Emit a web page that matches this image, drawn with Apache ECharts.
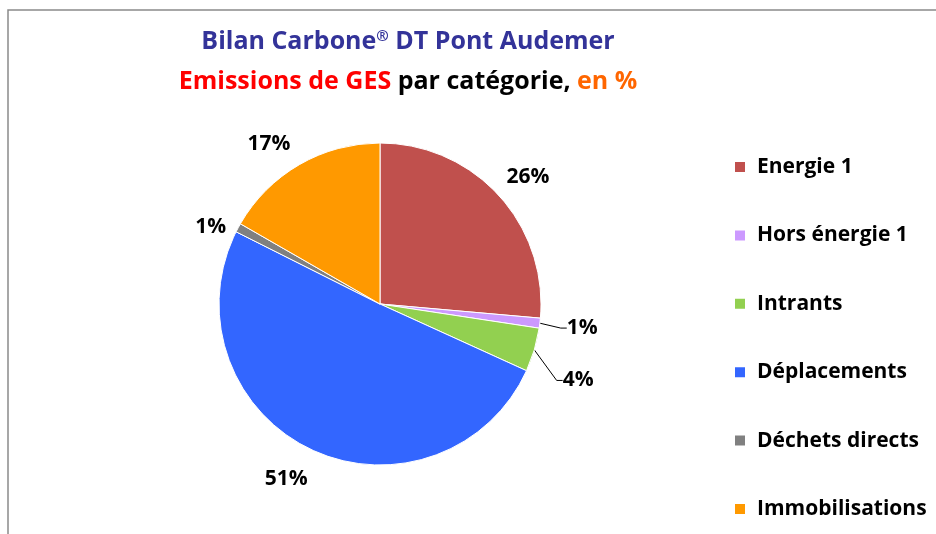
<!DOCTYPE html>
<html><head><meta charset="utf-8">
<script src="https://cdn.jsdelivr.net/npm/echarts@6/dist/echarts.min.js"></script>
<style>html,body{margin:0;padding:0;background:#fff}#c{width:936px;height:534px}</style>
</head><body><div id="c"></div>
<script>
const categories = ['Energie 1','Hors énergie 1','Intrants','Déplacements','Déchets directs','Immobilisations'];
const values = [26.4, 1.0, 4.4, 50.6, 0.9, 16.7];
const colors = ['#C0504D','#CC99FF','#92D050','#3366FF','#808080','#FF9900'];
const leaderIdx = [1, 2];
// label nudges (px), by slice index
const labelNudge = [[-15,-7],[-8,3],[-6,26],[15,15],[13,7],[10,-7]];
const FONT = '"Open Sans", "Noto Sans", sans-serif';

const chart = echarts.init(document.getElementById('c'));
const data = categories.map((n,i)=>({
  name:n, value:values[i],
  itemStyle:{color:colors[i]},
  label: leaderIdx.includes(i) ? {padding:[0,0,0,4]} : {},
  labelLine:{show: leaderIdx.includes(i)}
}));
const tf = {fontFamily:FONT,fontWeight:'bold',fontSize:25};
chart.setOption({
  animation:false,
  graphic:[{type:'rect',shape:{x:8,y:10,width:1200,height:800},style:{fill:'none',stroke:'#8a8a8a',lineWidth:1.5},silent:true}],
  title:{
    textAlign:'center', top:24, left: 403,
    text:'{a|Bilan Carbone}{s|®}{a| DT Pont Audemer}',
    subtext:'{r|Emissions de GES}{k| par catégorie,}{o| en %}',
    itemGap:15,
    textStyle:{...tf,color:'#333399',
      rich:{a:{...tf,color:'#333399'},s:{...tf,fontSize:15,color:'#333399',verticalAlign:'top',padding:[0,0,10,0]}}},
    subtextStyle:{...tf,
      rich:{r:{...tf,color:'#FF0000'},k:{...tf,color:'#000000'},o:{...tf,color:'#FF6600'}}}
  },
  legend:{
    orient:'vertical', left:728, top:151,
    itemWidth:12, itemHeight:12, itemGap:46.4, icon:'rect',
    textStyle:{fontFamily:FONT,fontWeight:'bold',fontSize:21,color:'#000',lineHeight:22,padding:[0,0,0,6]},
    data:categories
  },
  series:[{
    type:'pie', center:[380,304], radius:161, startAngle:90, clockwise:true,
    itemStyle:{borderColor:'#fff',borderWidth:1},
    label:{show:true, position:'outside', formatter:p=>Math.round(p.value)+'%',
      fontFamily:FONT,fontWeight:'bold',fontSize:21,color:'#000'},
    labelLine:{length:16,length2:6,lineStyle:{color:'#000',width:1}},
    labelLayout:p=>{
      const n = labelNudge[p.dataIndex], r = p.labelRect;
      if (leaderIdx.includes(p.dataIndex)) {
        return {x: r.x + n[0], y: r.y + r.height/2 + n[1]};
      }
      return {dx:n[0], dy:n[1]};
    },
    avoidLabelOverlap:false,
    data:data
  }]
});
</script></body></html>
